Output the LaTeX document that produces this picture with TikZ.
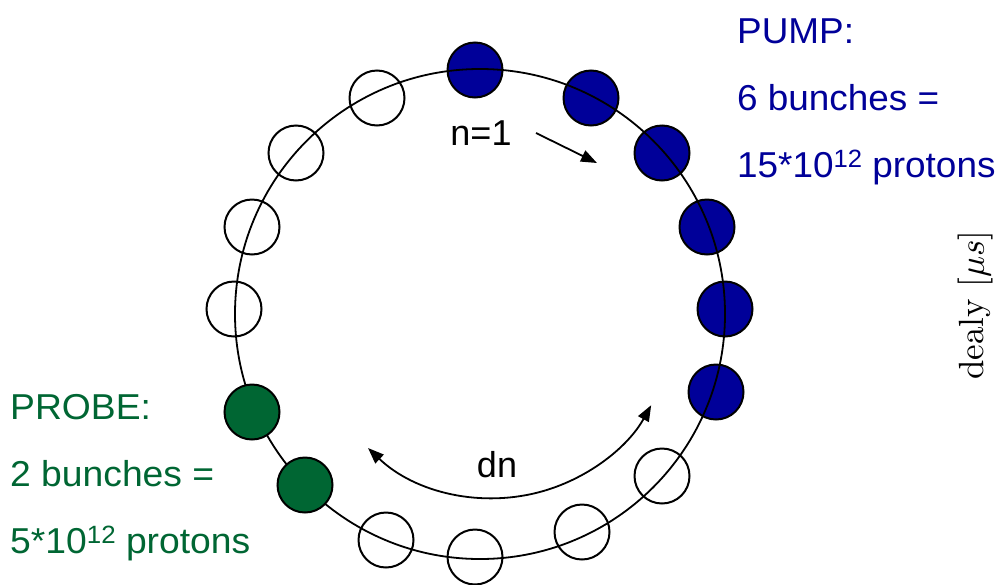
\documentclass[tikz,border=0pt]{standalone}
\usepackage{fontspec}
\setsansfont{Liberation Sans}
\usetikzlibrary{arrows.meta}
\definecolor{pumpblue}{RGB}{0,0,153}
\definecolor{probegreen}{RGB}{0,102,51}
\newcommand{\supertw}{\raisebox{10pt}{\fontsize{25}{25}\selectfont 12}}
\begin{document}
\begin{tikzpicture}[x=1pt,y=-1pt,
  bunchbase/.style={circle, draw=black, line width=2pt, minimum size=55pt, inner sep=0pt},
  pumpb/.style={bunchbase, fill=pumpblue},
  probeb/.style={bunchbase, fill=probegreen},
  emptyb/.style={bunchbase},
  ringst/.style={draw=black, line width=1.8pt},
  arr/.style={line width=1.8pt, -{Triangle[length=16pt,width=12pt]}},
  darr/.style={line width=1.8pt, {Triangle[length=16pt,width=12pt]}-{Triangle[length=16pt,width=12pt]}},
  bigtxt/.style={font=\sffamily\fontsize{36}{36}\selectfont, inner sep=0pt},
  pumptxt/.style={bigtxt, text=pumpblue, anchor=base west},
  probetxt/.style={bigtxt, text=probegreen, anchor=base west}
]
\useasboundingbox (0,0) rectangle (1000,584);
% pump bunches (ring drawn over them)
\node[pumpb] (p1) at (475,70) {};
\node[pumpb] (p2) at (591,98) {};
\node[pumpb] (p3) at (662,153) {};
\node[pumpb] (p4) at (707,227) {};
\node[pumpb] (p5) at (725,309) {};
\node[pumpb] (p6) at (716,392) {};
% ring
\draw[ringst] (480,314) circle[radius=245];
% probe bunches
\node[probeb] (g1) at (252,412) {};
\node[probeb] (g2) at (305,485) {};
% empty buckets
\node[emptyb] (e1) at (662,476) {};
\node[emptyb] (e2) at (582,532) {};
\node[emptyb] (e3) at (475,557) {};
\node[emptyb] (e4) at (386,540) {};
\node[emptyb] (e5) at (234,309) {};
\node[emptyb] (e6) at (252,227) {};
\node[emptyb] (e7) at (296,153) {};
\node[emptyb] (e8) at (377,98) {};
% n=1 arrow
\node[bigtxt, anchor=base] (n1) at (481,145) {n=1};
\coordinate (a1) at (536,133);
\coordinate (a2) at (597,163);
\draw[arr] (a1) -- (a2);
% dn arc
\coordinate (d1) at (368,448);
\draw[darr] (d1) arc[start angle=133.7, end angle=29.1, radius=181];
\node[bigtxt, anchor=base] (dn) at (497,477) {dn};
% texts
\node[pumptxt] (t1) at (737,43) {\scalebox{1.025}[1]{PUMP:}};
\node[pumptxt] (t2) at (737,110) {\scalebox{1.025}[1]{6 bunches =}};
\node[pumptxt] (t3) at (737,177) {\scalebox{1.025}[1]{15*10\supertw{} protons}};
\node[probetxt] (s1) at (10,419) {\scalebox{1.035}[1]{PROBE:}};
\node[probetxt] (s2) at (10,486) {\scalebox{1.035}[1]{2 bunches =}};
\node[probetxt] (s3) at (10,553) {\scalebox{1.035}[1]{5*10\supertw{} protons}};
% axis label
\node[rotate=90, inner sep=0pt] (lab) at (975,305) {\scalebox{3.5}{dealy $[\mu s]$}};
\end{tikzpicture}
\end{document}
